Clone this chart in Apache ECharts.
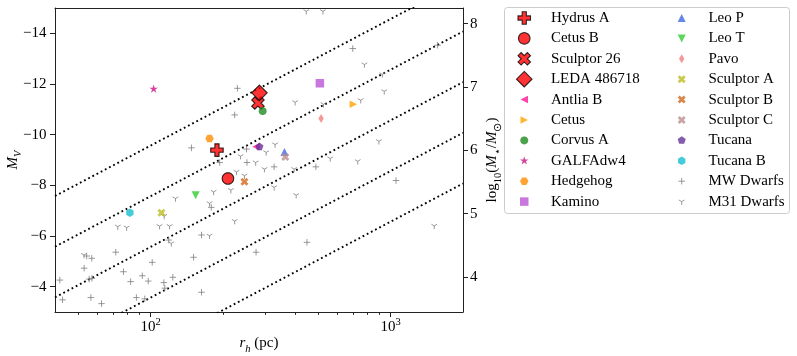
<!DOCTYPE html>
<html><head><meta charset="utf-8">
<script src="https://cdn.jsdelivr.net/npm/echarts@6/dist/echarts.min.js"></script>
<style>html,body{margin:0;padding:0;background:#fff}#c{width:797px;height:356px}</style>
</head><body><div id="c"></div>
<script>
// ---------------- data ----------------
const galaxyNames = ['Hydrus A','Cetus B','Sculptor 26','LEDA 486718','Antlia B','Cetus','Corvus A','GALFAdw4','Hedgehog','Kamino','Leo P','Leo T','Pavo','Sculptor A','Sculptor B','Sculptor C','Tucana','Tucana B'];
const galaxyRh = [189, 210, 280, 284, 275, 699, 293, 103, 176, 507, 361, 154, 513, 111, 246, 364, 284, 82];
const galaxyMV = [-9.39, -8.27, -11.25, -11.65, -9.52, -11.20, -10.93, -11.80, -9.85, -12.03, -9.32, -7.61, -10.64, -6.92, -8.14, -9.12, -9.52, -6.92];

const mwRh = [148, 230, 224, 251, 194, 252, 327, 488, 179, 163, 448, 275, 151, 163, 1052, 695, 1567, 119, 71.6, 54.2, 56.9, 52.9, 101.6, 77.1, 41.9, 55.5, 57.0, 82.6, 92.4, 97.8, 123.8, 113.6, 114.6, 43, 56.4, 62.5, 87.3, 94.6];
const mwMV = [-9.48, -11.83, -10.78, -9.43, -8.90, -8.90, -8.73, -8.73, -7.13, -6.04, -5.75, -5.36, -5.16, -3.78, -8.19, -13.40, -13.53, -5.84, -5.36, -5.21, -5.12, -4.73, -4.96, -4.59, -4.26, -4.30, -4.33, -4.20, -4.43, -4.22, -4.37, -4.16, -3.94, -3.48, -3.57, -3.33, -3.57, -3.52];

const m31Rh = [445, 522, 400, 525, 237, 274, 298, 396, 228, 246, 216, 183, 327, 404, 176, 224, 176, 560, 729, 1518, 777, 923, 940, 750, 893, 114, 127, 73, 79.5, 109, 120, 122, 52.8, 330, 303];
const m31MV = [-14.87, -14.87, -11.28, -11.20, -9.15, -8.90, -8.64, -8.64, -8.53, -8.38, -7.81, -7.74, -7.92, -7.61, -7.29, -6.59, -6.01, -9.06, -8.95, -6.40, -12.77, -12.38, -11.71, -11.36, -9.74, -6.79, -7.48, -6.37, -6.33, -6.39, -6.39, -5.71, -5.25, -9.61, -9.30];

const surfaceBrightness = [24, 26, 28, 30, 32];   // mag / arcsec^2
const xRange = [40, 2000];
const mvRange = [-15, -3];
const xMajorTicks = [100, 1000];
const xMinorTicks = [50, 60, 70, 80, 90, 200, 300, 400, 500, 600, 700, 800, 900];
const mvTicks = [-14, -12, -10, -8, -6, -4];
const massTicks = [4, 5, 6, 7, 8];
const massZeroPoint = 5.62;   // M_V = massZeroPoint - 2.5 log10(M*/Msun)

// ---------------- styles ----------------
const FONT = 'Liberation Serif';
function poly(n, rot) {
  let s = '';
  for (let k = 0; k < n; k++) {
    const a = (rot + 360 * k / n) * Math.PI / 180;
    s += (k ? 'L' : 'M') + Math.cos(a).toFixed(4) + ',' + Math.sin(a).toFixed(4);
  }
  return s + 'Z';
}
function starPath() {
  let s = '';
  for (let k = 0; k < 10; k++) {
    const r = k % 2 ? 0.381966 : 1;
    const a = (-90 + 36 * k) * Math.PI / 180;
    s += (k ? 'L' : 'M') + (r * Math.cos(a)).toFixed(4) + ',' + (r * Math.sin(a)).toFixed(4);
  }
  return s + 'Z';
}
const SHAPES = {
  circle: poly(36, 0),
  plusFilled: 'M-0.3333,-1L0.3333,-1L0.3333,-0.3333L1,-0.3333L1,0.3333L0.3333,0.3333L0.3333,1L-0.3333,1L-0.3333,0.3333L-1,0.3333L-1,-0.3333L-0.3333,-0.3333Z',
  xFilled: 'M0.5,0L1,0.5L0.5,1L0,0.5L-0.5,1L-1,0.5L-0.5,0L-1,-0.5L-0.5,-1L0,-0.5L0.5,-1L1,-0.5Z',
  diamond: 'M0,-1L1,0L0,1L-1,0Z',
  thinDiamond: 'M0,-1L0.6,0L0,1L-0.6,0Z',
  triUp: 'M0,-1L1,1L-1,1Z',
  triDown: 'M0,1L1,-1L-1,-1Z',
  triLeft: 'M-1,0L1,-1L1,1Z',
  triRight: 'M1,0L-1,-1L-1,1Z',
  square: 'M-1,-1L1,-1L1,1L-1,1Z',
  pentagon: poly(5, -90),
  hexPointy: poly(6, -90),
  hexFlat: poly(6, 0),
  star: starPath(),
  plusLine: 'M-1,0L1,0M0,-1L0,1',
  triY: 'M0,0L0,1M0,0L-0.866,-0.5M0,0L0.866,-0.5'
};
const STYLE = {
  'Hydrus A': {shape: 'plusFilled', color: '#ff0000', size: 12.5, border: '#000000'},
  'Cetus B': {shape: 'circle', color: '#ff0000', size: 11.5, border: '#000000'},
  'Sculptor 26': {shape: 'xFilled', color: '#ff0000', size: 12.5, border: '#000000'},
  'LEDA 486718': {shape: 'diamond', color: '#ff0000', size: 15.5, border: '#000000'},
  'Antlia B': {shape: 'triLeft', color: '#ff1493', size: 7.5},
  'Cetus': {shape: 'triRight', color: '#ffa500', size: 7.5},
  'Corvus A': {shape: 'circle', color: '#228b22', size: 8},
  'GALFAdw4': {shape: 'star', color: '#c71585', size: 9},
  'Hedgehog': {shape: 'hexFlat', color: '#ff8c00', size: 8.5},
  'Kamino': {shape: 'square', color: '#ba55d3', size: 8.5},
  'Leo P': {shape: 'triUp', color: '#4169e1', size: 8},
  'Leo T': {shape: 'triDown', color: '#32cd32', size: 8},
  'Pavo': {shape: 'thinDiamond', color: '#f08080', size: 9},
  'Sculptor A': {shape: 'xFilled', color: '#bcbd22', size: 8},
  'Sculptor B': {shape: 'xFilled', color: '#d2691e', size: 8},
  'Sculptor C': {shape: 'xFilled', color: '#bc8f8f', size: 8},
  'Tucana': {shape: 'pentagon', color: '#663399', size: 8.5},
  'Tucana B': {shape: 'hexPointy', color: '#17becf', size: 8.5},
  'MW Dwarfs': {shape: 'plusLine', color: '#808080', size: 6.5, line: true},
  'M31 Dwarfs': {shape: 'triY', color: '#808080', size: 6.5, line: true}
};
const LEG_BOX = 16;
function plotSymbol(st) { return 'path://M-1,-1M1,1' + SHAPES[st.shape]; }
function legendSymbol(st) {
  const e = (LEG_BOX / st.size).toFixed(4);
  return 'path://M-' + e + ',-' + e + 'M' + e + ',' + e + SHAPES[st.shape];
}
function itemStyleOf(st) {
  if (st.line) return {color: 'rgba(0,0,0,0)', borderColor: st.color, borderWidth: 1};
  if (st.border) return {color: st.color, borderColor: st.border, borderWidth: 1.1};
  return {color: st.color, borderWidth: 0};
}
function legendItem(name) {
  const st = STYLE[name];
  return {name: name, icon: legendSymbol(st),
    itemStyle: {borderWidth: st.line ? 1 : (st.border ? 1.1 : 0)}};
}

// ---------------- series ----------------
const series = [];
surfaceBrightness.forEach(function (mu) {
  const mv = function (r) { return mu - 21.572 - 2.5 * Math.log10(2 * Math.PI * r * r); };
  series.push({
    type: 'line', xAxisIndex: 0, yAxisIndex: 0, z: 1, silent: true, clip: true,
    symbol: 'none', animation: false,
    data: xRange.map(function (r) { return [r, mv(r)]; }),
    lineStyle: {color: '#000', width: 1.9, type: [1.8, 2.9], cap: 'butt'}
  });
});
function scatterSeries(name, rh, mv, z) {
  const st = STYLE[name];
  return {
    type: 'scatter', name: name, xAxisIndex: 0, yAxisIndex: 0, z: z,
    symbol: plotSymbol(st), symbolSize: st.size,
    itemStyle: itemStyleOf(st),
    data: rh.map(function (r, i) { return [r, mv[i]]; })
  };
}
series.push(scatterSeries('MW Dwarfs', mwRh, mwMV, 2));
series.push(scatterSeries('M31 Dwarfs', m31Rh, m31MV, 2));
galaxyNames.forEach(function (n, i) {
  series.push(scatterSeries(n, [galaxyRh[i]], [galaxyMV[i]], 3 + i * 0.01));
});

// ---------------- axes ----------------
const AX = {color: '#222', width: 1};
const lx0 = Math.log10(xRange[0]), lx1 = Math.log10(xRange[1]);
const tokMain = {fontFamily: FONT, fontSize: 15, color: '#000', lineHeight: 15, verticalAlign: 'top'};
const tokItal = Object.assign({}, tokMain, {fontStyle: 'italic'});
const tokSub = {fontFamily: FONT, fontSize: 10.5, color: '#000', lineHeight: 10, verticalAlign: 'top', padding: [7.5, 0, 0, 0]};
const tokSubI = Object.assign({}, tokSub, {fontStyle: 'italic'});
const legendText = {fontFamily: FONT, fontSize: 15, color: '#000', lineHeight: 20};

const option = {
  animation: false,
  backgroundColor: '#ffffff',
  grid: {left: 55, top: 8, width: 408, height: 304, containLabel: false, outerBoundsMode: 'none'},
  graphic: [{
    type: 'rect', z: 0,
    shape: {x: 504.5, y: 7.5, width: 285, height: 206, r: 3},
    style: {fill: 'rgba(255,255,255,0.8)', stroke: '#cccccc', lineWidth: 1}
  }],
  legend: [
    {
      data: galaxyNames.slice(0, 10).map(legendItem),
      orient: 'vertical', left: 515.7, top: 8, padding: 0,
      itemWidth: 43.4, itemHeight: LEG_BOX, itemGap: 0.4, selectedMode: false,
      textStyle: legendText
    },
    {
      data: galaxyNames.slice(10).concat(['MW Dwarfs', 'M31 Dwarfs']).map(legendItem),
      orient: 'vertical', left: 673.2, top: 8, padding: 0,
      itemWidth: 43.4, itemHeight: LEG_BOX, itemGap: 0.4, selectedMode: false,
      textStyle: legendText
    }
  ],
  xAxis: [
    {
      type: 'log', logBase: 10, min: xRange[0], max: xRange[1], position: 'bottom',
      axisLine: {show: false}, axisTick: {show: false}, axisLabel: {show: false},
      splitLine: {show: false}, minorTick: {show: false}, minorSplitLine: {show: false},
      name: '{i|r}{s|h}{m| (pc)}', nameLocation: 'middle', nameGap: 24, nameMoveOverlap: false,
      nameTextStyle: {rich: {i: tokItal, s: tokSubI, m: tokMain}}
    },
    {
      type: 'value', min: lx0, max: lx1, position: 'bottom',
      axisLine: {show: true, onZero: false, lineStyle: AX},
      axisTick: {show: true, customValues: xMajorTicks.map(Math.log10), length: 5, lineStyle: AX},
      axisLabel: {
        show: true, customValues: xMajorTicks.map(Math.log10), margin: 5,
        formatter: function (v) { return '{b|10}{s|' + Math.round(v) + '}'; },
        rich: {
          b: {fontFamily: FONT, fontSize: 15, color: '#000', lineHeight: 15, verticalAlign: 'top', padding: [3, 0, 0, 0]},
          s: {fontFamily: FONT, fontSize: 10.5, color: '#000', lineHeight: 10, verticalAlign: 'top'}
        }
      },
      splitLine: {show: false}
    },
    {
      type: 'value', min: lx0, max: lx1, position: 'bottom',
      axisLine: {show: false},
      axisTick: {show: true, customValues: xMinorTicks.map(Math.log10), length: 2.8, lineStyle: AX},
      axisLabel: {show: false}, splitLine: {show: false}
    },
    {
      type: 'value', min: lx0, max: lx1, position: 'top',
      axisLine: {show: true, onZero: false, lineStyle: AX},
      axisTick: {show: false}, axisLabel: {show: false}, splitLine: {show: false}
    }
  ],
  yAxis: [
    {
      type: 'value', inverse: true, min: mvRange[0], max: mvRange[1], position: 'left',
      axisLine: {show: true, onZero: false, lineStyle: AX},
      axisTick: {show: true, customValues: mvTicks, length: 5, lineStyle: AX},
      axisLabel: {show: true, customValues: mvTicks, margin: 8.5, fontFamily: FONT, fontSize: 15, color: '#000',
        formatter: function (v) { return (v < 0 ? '\u2212' : '') + Math.abs(v); }},
      splitLine: {show: false},
      name: '{i|M}{s|V}', nameLocation: 'middle', nameGap: 34.5, nameRotate: 90, nameMoveOverlap: false,
      nameTextStyle: {rich: {i: tokItal, s: tokSubI}}
    },
    {
      type: 'value',
      min: (massZeroPoint - mvRange[1]) / 2.5, max: (massZeroPoint - mvRange[0]) / 2.5,
      position: 'right',
      axisLine: {show: true, onZero: false, lineStyle: AX},
      axisTick: {show: true, customValues: massTicks, length: 5, lineStyle: AX},
      axisLabel: {show: true, customValues: massTicks, margin: 7, fontFamily: FONT, fontSize: 15, color: '#000'},
      splitLine: {show: false},
      name: '{m|log}{s|10}{m|(}{i|M}{s|\u22c6}{m|/}{i|M}{s|\u2299}{m|)}',
      nameLocation: 'middle', nameGap: 22, nameRotate: 90, nameMoveOverlap: false,
      nameTextStyle: {rich: {m: tokMain, i: tokItal, s: tokSub}}
    }
  ],
  series: series
};
const chart = echarts.init(document.getElementById('c'), null, {renderer: 'canvas'});
chart.setOption(option);
</script>
</body></html>
